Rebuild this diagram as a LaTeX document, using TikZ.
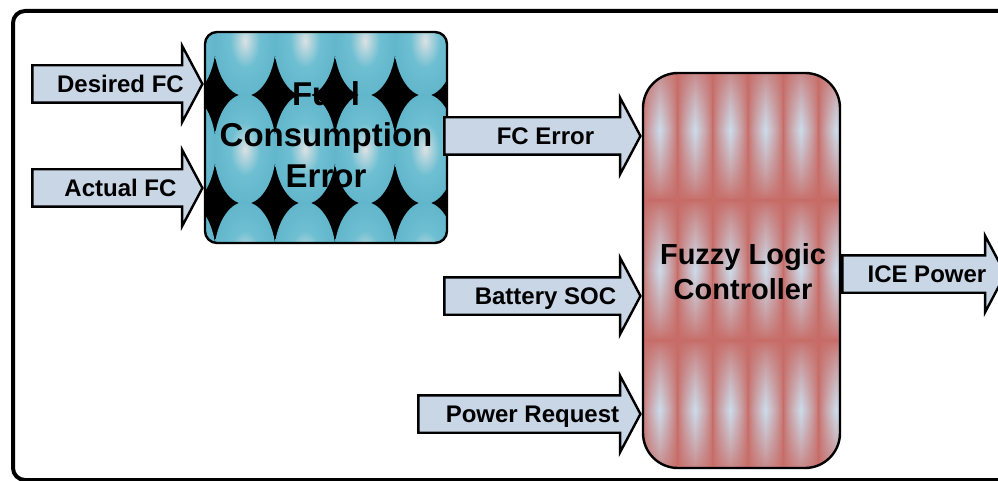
\documentclass[tikz,border=0pt]{standalone}
\usepackage{fontspec}
\setmainfont{Liberation Sans}
\usetikzlibrary{shapes.arrows}

\definecolor{arrowfill}{RGB}{201,214,230}
\definecolor{tealA}{RGB}{110,191,210}
\definecolor{tealB}{RGB}{98,182,203}
\definecolor{tealHi}{RGB}{220,225,227}

% soft highlighted bubble for the error block
\pgfdeclareradialshading{bubble}{\pgfpoint{0bp}{0bp}}{%
  color(0bp)=(tealHi); color(4bp)=(tealHi!65!tealA); color(12bp)=(tealA);
  color(25bp)=(tealB); color(50bp)=(tealB)}

% one tile of the controller texture: light centre, red seams
\pgfdeclarefunctionalshading{fuzzcell}{\pgfpointorigin}{\pgfpoint{100bp}{100bp}}{}{
  50 sub abs 25 div 1 exch sub dup 0 lt {pop 0} if
  exch 50 sub abs 25 div 1 exch sub dup 0 lt {pop 0} if
  mul 0.75 exp
  dup dup 0.52 mul 0.40 add 3 1 roll 0.44 mul 0.42 add 3 1 roll 0.02 mul 0.78 add 3 1 roll
}

\begin{document}
\begin{tikzpicture}[x=1pt,y=-1pt,
  inarrow/.style={single arrow, draw=black, line width=2.4pt, fill=arrowfill,
    single arrow head extend=19.5pt, single arrow tip angle=124,
    text height=17.3pt, text depth=0pt, inner ysep=8.85pt, inner xsep=2pt,
    font=\fontsize{24}{28}\selectfont\bfseries,
    execute at begin node=\hspace*{16pt}},
  blockframe/.style={draw=black, line width=2.4pt, inner sep=0pt}
]
\useasboundingbox (0,0) rectangle (998,481);
\clip (0,0) rectangle (998,481);

% outer frame
\draw[line width=4pt, rounded corners=12pt] (13,11) rectangle (1030,480);

% texture of the fuel consumption error block
\begin{scope}
  \clip[rounded corners=12pt] (205,32) rectangle (447,243);
  \fill[black] (205,32) rectangle (447,243);
  \foreach \cx in {185,245,305,365,425}
    \foreach \cy in {41,149,257} {
      \begin{scope}
        \clip (\cx-30,\cy-54) rectangle (\cx+30,\cy+54);
        \shade[shading=bubble] (\cx,\cy) ellipse [x radius=31pt, y radius=55pt];
      \end{scope}
    }
\end{scope}

% texture of the fuzzy logic controller block
\begin{scope}
  \clip[rounded corners=35pt] (643,73) rectangle (840,468);
  \foreach \i in {0,...,5}
    \foreach \j in {0,1,2}
      \shade[shading=fuzzcell] ({642+35.25*\i},{60+140*\j}) rectangle +(35.25,140);
\end{scope}

% blocks
\node[blockframe, rounded corners=12pt, minimum width=242pt, minimum height=211pt]
  (fce) at (326,137.5) {};
\node[font=\fontsize{33}{41}\selectfont\bfseries, align=center]
  (fcetext) at (326,135) {Fuel\\Consumption\\Error};

\node[blockframe, rounded corners=35pt, minimum width=197pt, minimum height=395pt]
  (flc) at (741.5,270.5) {};
\node[font=\fontsize{29}{35}\selectfont\bfseries, align=center]
  (flctext) at (743,272) {Fuzzy Logic\\Controller};

% signal levels
\coordinate (yDes) at (0,84);
\coordinate (yAct) at (0,188);
\coordinate (yErr) at (0,136);
\coordinate (ySoc) at (0,296);
\coordinate (yReq) at (0,414);
\coordinate (yIce) at (0,274);

% signal arrows
\node[inarrow, minimum height=170pt, anchor=tip] (desired) at (fce.west |- yDes) {Desired FC};
\node[inarrow, minimum height=170pt, anchor=tip] (actual) at (fce.west |- yAct) {Actual FC};
\node[inarrow, minimum height=196pt, anchor=tip] (fcerr) at (flc.west |- yErr) {FC Error};
\node[inarrow, minimum height=196pt, anchor=tip] (soc) at (flc.west |- ySoc) {Battery SOC};
\node[inarrow, minimum height=222pt, anchor=tip] (preq) at (flc.west |- yReq) {Power Request};
\node[inarrow, minimum height=163pt, anchor=tail] (ice) at (flc.east |- yIce) {ICE Power};
\end{tikzpicture}
\end{document}
